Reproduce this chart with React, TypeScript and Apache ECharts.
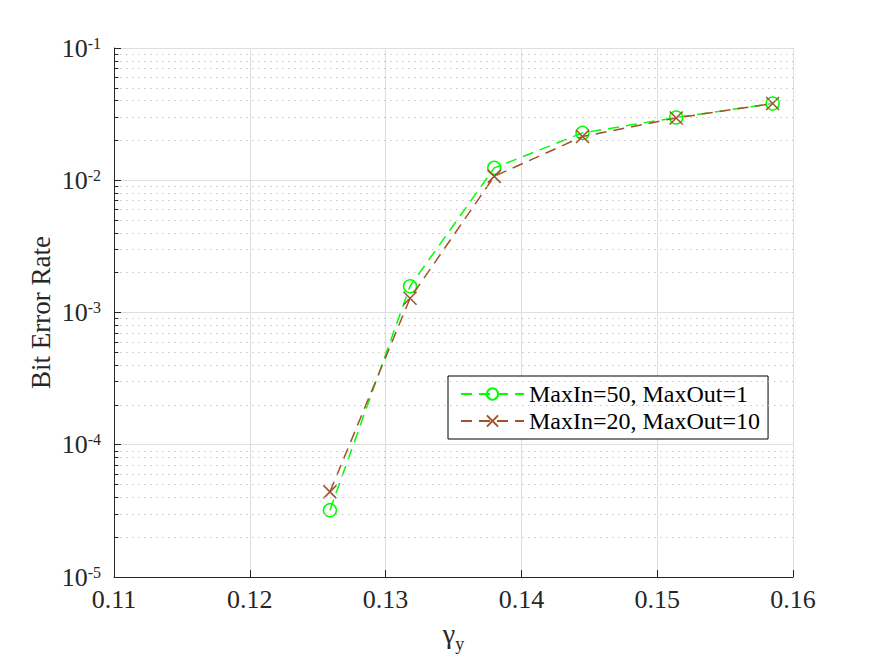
import React, { useEffect, useRef } from "react";
import * as echarts from "echarts";

// gamma_y values (x axis)
const gammaY = [0.1259, 0.1318, 0.138, 0.1445, 0.1514, 0.1585];
// Bit error rate for each configuration
const berMaxIn50 = [3.2e-5, 1.58e-3, 1.24e-2, 2.28e-2, 2.98e-2, 3.8e-2];
const berMaxIn20 = [4.4e-5, 1.28e-3, 1.07e-2, 2.14e-2, 2.96e-2, 3.8e-2];
const seriesNames = ["MaxIn=50, MaxOut=1", "MaxIn=20, MaxOut=10"];
const xTicks = [0.11, 0.12, 0.13, 0.14, 0.15, 0.16];
const yDecades = [-5, -4, -3, -2, -1];
const minorMultipliers = [2, 3, 4, 5, 6, 7, 8, 9];

const FONT = "'Liberation Serif', 'Times New Roman', serif";
const AXIS_COLOR = "#262626";
const GRID_COLOR = "#dedede";
const GREEN = "#00ff00";
const BROWN = "#a0522d";

export default function App() {
  const ref = useRef<HTMLDivElement>(null);

  useEffect(() => {
    if (!ref.current) return;
    const chart = echarts.init(ref.current, undefined, { renderer: "svg" });

    const xMin = xTicks[0];
    const xMax = xTicks[xTicks.length - 1];
    const yMin = Math.pow(10, yDecades[0]);
    const yMax = Math.pow(10, yDecades[yDecades.length - 1]);

    const minorValues: number[] = [];
    yDecades.slice(0, -1).forEach((d) => {
      minorMultipliers.forEach((m) => minorValues.push(m * Math.pow(10, d)));
    });
    const tickLenX = (xMax - xMin) * 0.0065;

    const option: any = {
      animation: false,
      backgroundColor: "#ffffff",
      grid: { left: 114, right: 82, top: 48, bottom: 80, containLabel: false, outerBoundsMode: "none" },
      xAxis: {
        type: "value",
        min: xMin,
        max: xMax,
        interval: 0.01,
        name: "{g|γ}{s|y}",
        nameLocation: "middle",
        nameGap: 42,
        nameMoveOverlap: false,
        nameTextStyle: {
          fontFamily: FONT,
          color: AXIS_COLOR,
          rich: {
            g: { fontFamily: FONT, fontSize: 28, lineHeight: 28, color: AXIS_COLOR, verticalAlign: "top" },
            s: {
              fontFamily: FONT,
              fontSize: 18,
              lineHeight: 34,
              color: AXIS_COLOR,
              verticalAlign: "bottom",
            },
          },
        },
        axisLine: { show: true, lineStyle: { color: AXIS_COLOR, width: 1 } },
        axisTick: { show: true, inside: true, length: 7, lineStyle: { color: AXIS_COLOR } },
        axisLabel: {
          margin: 9,
          fontFamily: FONT,
          fontSize: 26,
          color: AXIS_COLOR,
          formatter: (v: number) => v.toFixed(2),
        },
        splitLine: { show: true, lineStyle: { color: GRID_COLOR, width: 1 } },
      },
      yAxis: {
        type: "log",
        logBase: 10,
        min: yMin,
        max: yMax,
        name: "Bit Error Rate",
        nameLocation: "middle",
        nameGap: 60,
        nameMoveOverlap: false,
        nameTextStyle: { fontFamily: FONT, fontSize: 27, color: AXIS_COLOR },
        axisLine: { show: true, lineStyle: { color: AXIS_COLOR, width: 1 } },
        axisTick: { show: true, inside: true, length: 7, lineStyle: { color: AXIS_COLOR } },
        axisLabel: {
          margin: 13,
          fontFamily: FONT,
          fontSize: 26,
          color: AXIS_COLOR,
          formatter: (v: number) => `10{sup|${Math.round(Math.log10(v))}}`,
          rich: {
            sup: { fontFamily: FONT, fontSize: 16, color: AXIS_COLOR, verticalAlign: "top" },
          },
        },
        splitLine: { show: true, lineStyle: { color: GRID_COLOR, width: 1 } },
      },
      legend: {
        orient: "vertical",
        left: 448,
        top: 376,
        data: seriesNames,
        itemWidth: 63,
        itemHeight: 14,
        itemGap: 3,
        padding: [6, 8, 6, 12],
        borderColor: "#000000",
        borderWidth: 1,
        backgroundColor: "#ffffff",
        textStyle: { fontFamily: FONT, fontSize: 24, color: "#000000" },
      },
      series: [
        {
          name: "minorGrid",
          type: "line",
          data: [],
          silent: true,
          z: 1,
          markLine: {
            silent: true,
            precision: 12,
            symbol: ["none", "none"],
            label: { show: false },
            lineStyle: { color: "#c4c4c4", width: 1, type: [1.5, 4.5] },
            data: minorValues.map((v) => ({ yAxis: v })),
          },
        },
        {
          name: "minorTicks",
          type: "line",
          data: [],
          silent: true,
          z: 2,
          markLine: {
            silent: true,
            precision: 12,
            symbol: ["none", "none"],
            label: { show: false },
            lineStyle: { color: AXIS_COLOR, width: 1, type: "solid" },
            data: minorValues.map((v) => [{ coord: [xMin, v] }, { coord: [xMin + tickLenX, v] }]),
          },
        },
        {
          name: seriesNames[0],
          type: "line",
          z: 3,
          data: gammaY.map((x, i) => [x, berMaxIn50[i]]),
          symbol: "circle",
          symbolSize: 13,
          lineStyle: { color: GREEN, width: 1.5, type: [11, 7] },
          itemStyle: { color: "rgba(0,0,0,0)", borderColor: GREEN, borderWidth: 1.5 },
        },
        {
          name: seriesNames[1],
          type: "line",
          z: 4,
          data: gammaY.map((x, i) => [x, berMaxIn20[i]]),
          symbol: "path://M0,0L10,10M10,0L0,10",
          symbolSize: 13,
          lineStyle: { color: BROWN, width: 1.5, type: [11, 7] },
          itemStyle: { color: "rgba(0,0,0,0)", borderColor: BROWN, borderWidth: 1.5 },
        },
      ],
    };

    chart.setOption(option);
    return () => chart.dispose();
  }, []);

  return (
    <div
      ref={ref}
      style={{ position: "fixed", left: 0, top: 0, width: 875, height: 657, background: "#fff" }}
    />
  );
}
